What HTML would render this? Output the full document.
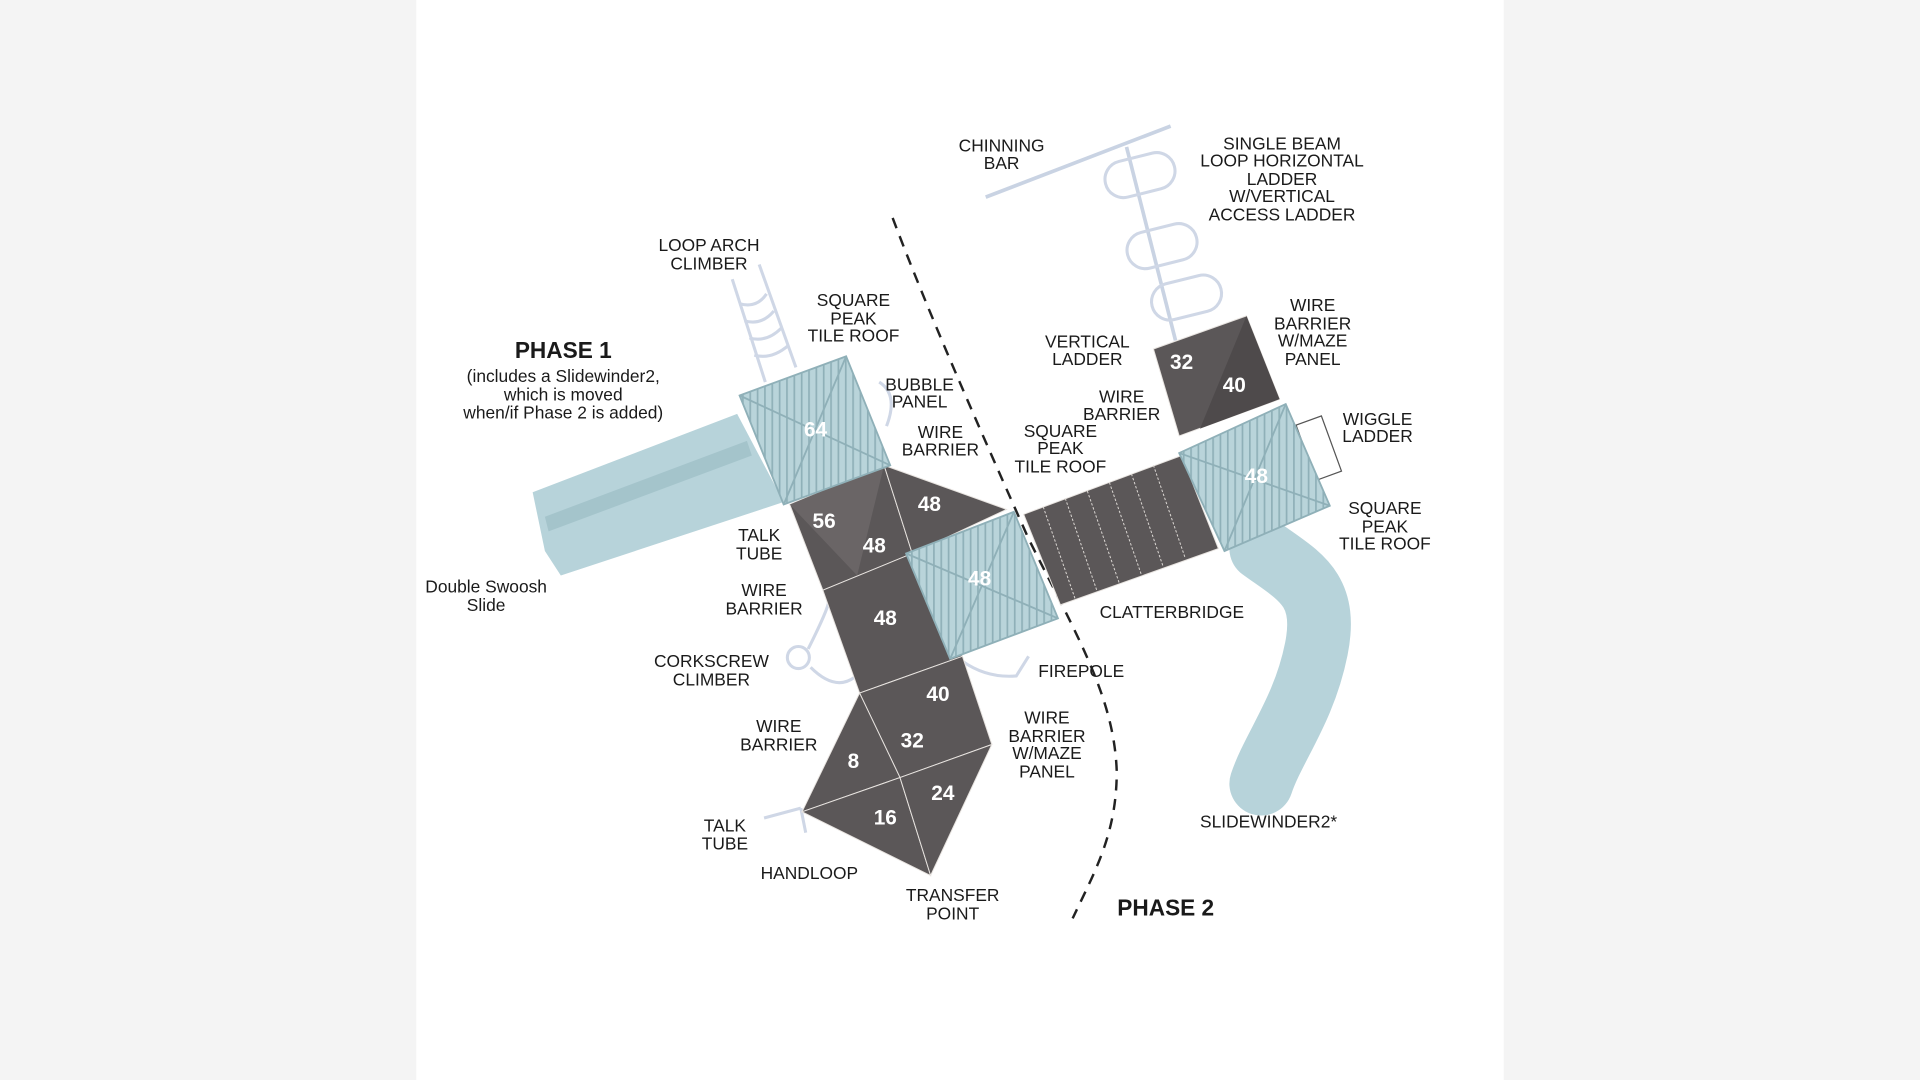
<!DOCTYPE html>
<html><head><meta charset="utf-8"><style>
html,body{margin:0;padding:0;background:#f4f4f4;}
svg{display:block}
text{font-family:"Liberation Sans",sans-serif;fill:#1a1a1a;text-anchor:middle;dominant-baseline:central;font-size:14.2px}
.n{fill:#fff;font-weight:bold;font-size:17px}
.b{font-weight:bold;font-size:18.5px}
</style></head><body>
<svg width="1920" height="1080" viewBox="0 0 1568 882" xmlns="http://www.w3.org/2000/svg">
<defs>
<pattern id="rib" width="6" height="6" patternUnits="userSpaceOnUse"><rect width="6" height="6" fill="#b9d4da"/><rect width="1.4" height="6" fill="#8fb0b8"/></pattern>
</defs>
<rect x="0" y="0" width="1568" height="882" fill="#f4f4f4"/>
<rect x="340" y="0" width="888" height="882" fill="#fff"/>

<!-- chinning bar & horizontal ladder -->
<line x1="805" y1="161" x2="956" y2="103" stroke="#c9d3e3" stroke-width="3"/>
<line x1="920" y1="120" x2="960" y2="278" stroke="#c9d3e3" stroke-width="3"/>
<g fill="none" stroke="#cfd7e6" stroke-width="2.5">
<rect x="902" y="128" width="58" height="30" rx="15" transform="rotate(-14 931 143)"/>
<rect x="920" y="186" width="58" height="30" rx="15" transform="rotate(-14 949 201)"/>
<rect x="940" y="228" width="58" height="30" rx="15" transform="rotate(-14 969 243)"/>
</g>
<!-- loop arch climber -->
<g stroke="#cfd7e6" stroke-width="2.5" fill="none">
<line x1="598" y1="228" x2="625" y2="312"/><line x1="620" y1="216" x2="650" y2="300"/>
<path d="M604 248 q14 4 22-8 M608 262 q14 4 24-8 M612 276 q14 4 26-8 M616 290 q14 4 28-8"/>
<path d="M718 312 q16 10 6 36"/>
<circle cx="652" cy="537" r="9"/><path d="M660 530 q20 -40 16 -40 M662 545 q20 20 36 8"/>
<path d="M786 540 q20 14 44 12 l10 -16"/>
<path d="M624 668 l30 -8 m0 0 l4 20"/>
</g>
<!-- dashed line -->
<path d="M729 178 C760 260 800 350 840 440 C880 520 910 570 912 630 C912 680 895 710 876 750" fill="none" stroke="#222" stroke-width="2" stroke-dasharray="9 7"/>

<!-- left slide -->
<polygon points="435,402 602,338 640,410 458,470 445,450" fill="#b7d3da"/>
<polygon points="445,422 610,360 614,372 448,434" fill="#a4c4cb"/>

<!-- dark decks -->
<g fill="#5b5758" stroke="#e8e4e0" stroke-width="0.8">
<polygon points="645,412 722,380 745,452 672,482"/>
<polygon points="722,380 822,416 745,452"/>
<polygon points="672,482 745,452 786,536 702,566"/>
<polygon points="702,566 786,536 810,608 735,635"/>
<polygon points="702,566 735,635 655,663"/>
<polygon points="655,663 735,635 760,715"/>
<polygon points="735,635 810,608 760,715"/>
<polygon points="942,285 1018,258 1045,326 963,356"/>
<polygon points="836,420 965,372 995,448 866,494"/>
</g>
<polygon points="645,412 722,380 700,470" fill="#6a6566"/>
<polygon points="1018,258 1045,326 980,350" fill="#4e4a4b"/>
<g stroke="#dcd8d4" stroke-width="0.8" stroke-dasharray="2 1.5">
<line x1="852" y1="414" x2="878" y2="489"/><line x1="870" y1="407" x2="896" y2="483"/>
<line x1="888" y1="401" x2="914" y2="476"/><line x1="906" y1="394" x2="932" y2="469"/>
<line x1="924" y1="387" x2="950" y2="463"/><line x1="942" y1="380" x2="968" y2="456"/>
</g>
<rect x="1066" y="342" width="22" height="48" fill="#fff" stroke="#555" stroke-width="1" transform="rotate(-20 1077 366)"/>

<!-- right slide -->
<path d="M1030 448 C1060 470 1085 480 1075 530 C1065 580 1040 610 1030 640" fill="none" stroke="#b7d3da" stroke-width="52" stroke-linecap="round"/>

<!-- roofs -->
<g stroke="#8fb0b8" stroke-width="1.5">
<polygon points="604,323 691,291 727,380 640,412" fill="url(#rib)"/>
<line x1="604" y1="323" x2="727" y2="380"/><line x1="691" y1="291" x2="640" y2="412"/>
<polygon points="740,452 828,418 864,505 776,538" fill="url(#rib)"/>
<line x1="740" y1="452" x2="864" y2="505"/><line x1="828" y1="418" x2="776" y2="538"/>
<polygon points="963,370 1050,330 1086,413 1000,450" fill="url(#rib)"/>
<line x1="963" y1="370" x2="1086" y2="413"/><line x1="1050" y1="330" x2="1000" y2="450"/>
</g>

<!-- deck numbers -->
<text class="n" x="666" y="351">64</text>
<text class="n" x="673" y="426">56</text>
<text class="n" x="714" y="446">48</text>
<text class="n" x="759" y="412">48</text>
<text class="n" x="800" y="473">48</text>
<text class="n" x="723" y="505">48</text>
<text class="n" x="766" y="567">40</text>
<text class="n" x="745" y="605">32</text>
<text class="n" x="697" y="622">8</text>
<text class="n" x="723" y="668">16</text>
<text class="n" x="770" y="648">24</text>
<text class="n" x="965" y="296">32</text>
<text class="n" x="1008" y="315">40</text>
<text class="n" x="1026" y="389">48</text>

<!-- labels -->
<text x="818" y="119">CHINNING</text><text x="818" y="133">BAR</text>
<text x="1047" y="117">SINGLE BEAM</text><text x="1047" y="131">LOOP HORIZONTAL</text><text x="1047" y="146">LADDER</text><text x="1047" y="160">W/VERTICAL</text><text x="1047" y="175">ACCESS LADDER</text>
<text x="579" y="200">LOOP ARCH</text><text x="579" y="215">CLIMBER</text>
<text x="697" y="245">SQUARE</text><text x="697" y="260">PEAK</text><text x="697" y="274">TILE ROOF</text>
<text class="b" x="460" y="286">PHASE 1</text>
<text x="460" y="307">(includes a Slidewinder2,</text><text x="460" y="322">which is moved</text><text x="460" y="337">when/if Phase 2 is added)</text>
<text x="751" y="314">BUBBLE</text><text x="751" y="328">PANEL</text>
<text x="768" y="353">WIRE</text><text x="768" y="367">BARRIER</text>
<text x="888" y="279">VERTICAL</text><text x="888" y="293">LADDER</text>
<text x="1072" y="249">WIRE</text><text x="1072" y="264">BARRIER</text><text x="1072" y="278">W/MAZE</text><text x="1072" y="293">PANEL</text>
<text x="916" y="324">WIRE</text><text x="916" y="338">BARRIER</text>
<text x="866" y="352">SQUARE</text><text x="866" y="366">PEAK</text><text x="866" y="381">TILE ROOF</text>
<text x="1125" y="342">WIGGLE</text><text x="1125" y="356">LADDER</text>
<text x="1131" y="415">SQUARE</text><text x="1131" y="430">PEAK</text><text x="1131" y="444">TILE ROOF</text>
<text x="620" y="437">TALK</text><text x="620" y="452">TUBE</text>
<text x="397" y="479">Double Swoosh</text><text x="397" y="494">Slide</text>
<text x="624" y="482">WIRE</text><text x="624" y="497">BARRIER</text>
<text x="957" y="500">CLATTERBRIDGE</text>
<text x="581" y="540">CORKSCREW</text><text x="581" y="555">CLIMBER</text>
<text x="883" y="548">FIREPOLE</text>
<text x="636" y="593">WIRE</text><text x="636" y="608">BARRIER</text>
<text x="855" y="586">WIRE</text><text x="855" y="601">BARRIER</text><text x="855" y="615">W/MAZE</text><text x="855" y="630">PANEL</text>
<text x="592" y="674">TALK</text><text x="592" y="689">TUBE</text>
<text x="661" y="713">HANDLOOP</text>
<text x="778" y="731">TRANSFER</text><text x="778" y="746">POINT</text>
<text x="1036" y="671">SLIDEWINDER2*</text>
<text class="b" x="952" y="741">PHASE 2</text>
</svg>
</body></html>
